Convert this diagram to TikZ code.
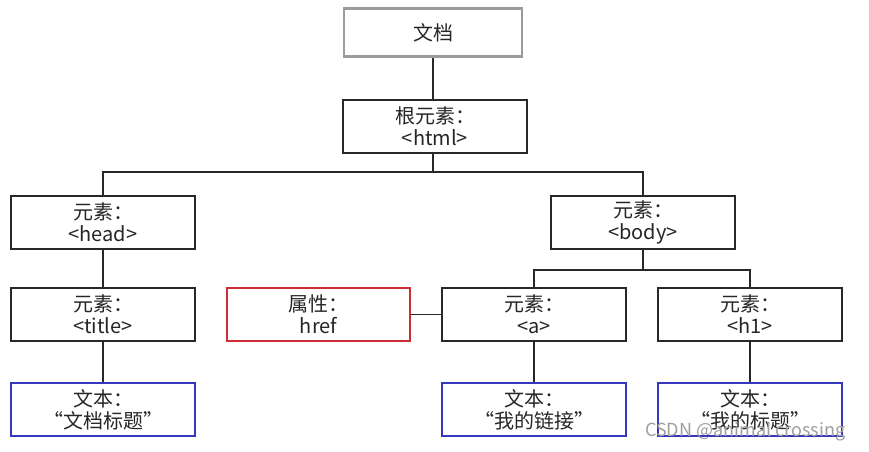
\documentclass[tikz,border=0pt]{standalone}
\usepackage{fontspec}
\setmainfont{Noto Sans CJK SC}
\definecolor{docgray}{RGB}{155,155,155}
\definecolor{attrred}{RGB}{205,45,55}
\definecolor{txtblue}{RGB}{55,55,190}
\definecolor{linegray}{RGB}{40,40,40}
\begin{document}
\begin{tikzpicture}[x=1pt,y=-1pt,
  box/.style={draw=linegray,line width=1.3pt,minimum width=184pt,minimum height=53pt,
    inner sep=0pt,align=center,font=\fontsize{20}{22}\selectfont,text=black!85},
  docbox/.style={box,draw=docgray,line width=2.6pt,minimum width=178pt,minimum height=48pt},
  attrbox/.style={box,draw=attrred,minimum width=183pt},
  txtbox/.style={box,draw=txtblue},
  conn/.style={draw=linegray,line width=1.3pt}]
\useasboundingbox[fill=white] (0,0) rectangle (869,451);
\node[docbox] (doc) at (433,32.5) {文档};
\node[box] (root) at (435,126.5) {根元素：\\<html>};
\node[box] (head) at (103,222.5) {元素：\\<head>};
\node[box] (body) at (643,222.5) {元素：\\<body>};
\node[box] (title) at (103,314.5) {元素：\\<title>};
\node[attrbox] (href) at (318.5,314.5) {属性：\\href};
\node[box] (a) at (534,314.5) {元素：\\<a>};
\node[box] (h1) at (750,314.5) {元素：\\<h1>};
\node[txtbox] (t1) at (103,409.5) {文本：\\“文档标题”};
\node[txtbox] (t2) at (534,409.5) {文本：\\“我的链接”};
\node[txtbox] (t3) at (750,409.5) {文本：\\“我的标题”};
\coordinate (j1) at (433,172);
\coordinate (j2) at (643,270);
\draw[conn] (doc.south) -- (doc.south |- root.north);
\draw[conn] (doc.south |- root.south) -- (j1);
\draw[conn] (head.north) |- (j1) -| (body.north);
\draw[conn] (head.south) -- (title.north);
\draw[conn] (title.south) -- (t1.north);
\draw[conn] (body.south) -- (j2);
\draw[conn] (a.north) |- (j2) -| (h1.north);
\draw[conn] (href.east) -- (a.west);
\draw[conn] (a.south) -- (t2.north);
\draw[conn] (h1.south) -- (t3.north);
\node[font=\fontsize{18}{20}\selectfont,text=gray!75,anchor=west,inner sep=0pt] (wm) at (645,432) {CSDN @animal crossing};
\end{tikzpicture}
\end{document}
